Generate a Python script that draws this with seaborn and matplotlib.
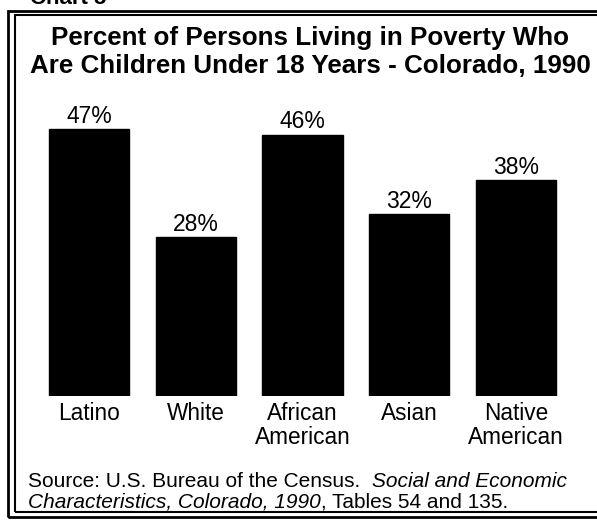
import matplotlib
matplotlib.use("Agg")
import matplotlib.pyplot as plt
from matplotlib.patches import Rectangle
import seaborn as sns
import pandas as pd

# Share of persons in poverty who are children under 18, Colorado 1990
groups = ["Latino", "White", "African\nAmerican", "Asian", "Native\nAmerican"]
percents = [47, 28, 46, 32, 38]
value_labels = ["47%", "28%", "46%", "32%", "38%"]

title = ("Percent of Persons Living in Poverty Who\n"
         "Are Children Under 18 Years - Colorado, 1990")
chart_label = "Chart 5"

sns.set_theme(style="white")
plt.rcParams["font.family"] = ["Liberation Sans", "DejaVu Sans"]

W, H = 597, 526
fig = plt.figure(figsize=(W / 100, H / 100), dpi=100)
fig.patch.set_facecolor("white")

def px(x, y):
    """Convert pixel coordinates (origin top-left) to figure fractions."""
    return x / W, 1 - y / H

df = pd.DataFrame({"group": groups, "percent": percents})

ax = fig.add_axes([20 / W, 130 / H, 565 / W, 284 / H])
sns.barplot(data=df, x="group", y="percent", color="black", width=0.75,
            saturation=1, ax=ax)
for p in ax.patches:
    p.set_facecolor("black")
    p.set_edgecolor("black")
ax.set_xlim(-0.646, 4.646)
ax.set_ylim(0, 50)
ax.set_xlabel("")
ax.set_ylabel("")
ax.set_yticks([])
ax.tick_params(axis="x", length=0, pad=4, labelsize=16.3, colors="black")
for lbl in ax.get_xticklabels():
    lbl.set_linespacing(1.1)
for s in ax.spines.values():
    s.set_visible(False)
ax.patch.set_alpha(0)

for i, (v, t) in enumerate(zip(percents, value_labels)):
    ax.annotate(t, xy=(i, v), xytext=(0, 1.0), textcoords="offset points",
                ha="center", va="bottom", fontsize=16.5, color="black")

# Title
fig.text(*px(310, 26), title, ha="center", va="top", fontsize=18.7,
         fontweight="bold", linespacing=1.2, color="black")

# Partially visible chart number above the frame
fig.text(*px(30, 4), chart_label, ha="left", va="baseline", fontsize=16,
         fontweight="bold", color="black")

# Source note with mixed roman / italic runs
src_fs = 15
t1 = fig.text(*px(28, 487), "Source: U.S. Bureau of the Census.  ",
              ha="left", va="baseline", fontsize=src_fs, color="black")
ax.annotate("Social and Economic", xy=(1, 0), xycoords=t1, ha="left",
            va="bottom", fontsize=src_fs, style="italic", color="black",
            annotation_clip=False)
t2 = fig.text(*px(28, 508), "Characteristics, Colorado, 1990",
              ha="left", va="baseline", fontsize=src_fs, style="italic",
              color="black")
ax.annotate(", Tables 54 and 135.", xy=(1, 0), xycoords=t2, ha="left",
            va="bottom", fontsize=src_fs, color="black",
            annotation_clip=False)

# Double-line frame around the chart
for (x0, y0, x1, y1, lw) in [(8, 11, 610, 517, 2.0), (15, 15, 610, 512, 1.5)]:
    fx0, fy1 = px(x0, y0)
    fx1, fy0 = px(x1, y1)
    fig.add_artist(Rectangle((fx0, fy0), fx1 - fx0, fy1 - fy0,
                             transform=fig.transFigure, fill=False,
                             edgecolor="black", linewidth=lw))

fig.savefig("out.png", dpi=100)
